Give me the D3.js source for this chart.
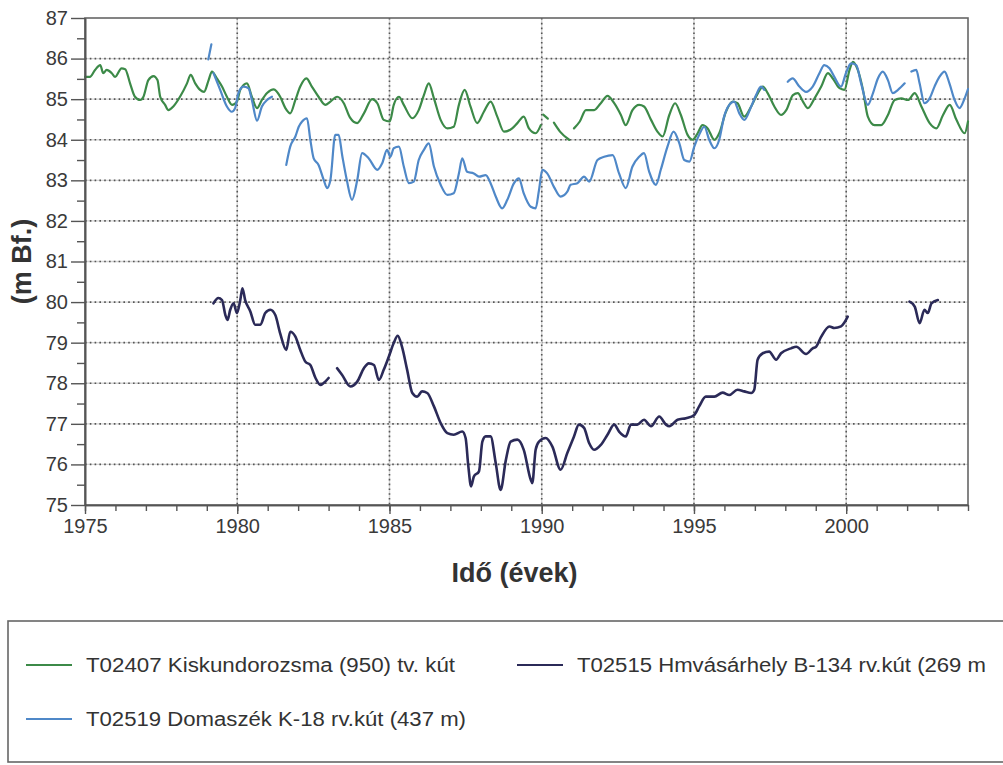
<!DOCTYPE html>
<html>
<head>
<meta charset="utf-8">
<script src="https://cdn.jsdelivr.net/npm/d3@7"></script>
<style>
  body { margin: 0; background: #fff; }
  svg text { font-family: "Liberation Sans", Arial, sans-serif; }
</style>
</head>
<body>
<div id="chart"></div>
<script>
// vízszint (m Bf.) idősorok, null = adathiány
const kiskundorozsma = [
  [1975.0,85.55],[1975.16,85.55],[1975.33,85.72],[1975.5,85.84],[1975.6,85.64],[1975.71,85.72],[1975.88,85.64],[1975.99,85.55],
  [1976.2,85.76],[1976.32,85.74],[1976.48,85.39],[1976.64,85.06],[1976.81,84.98],[1976.92,85.06],[1977.08,85.47],[1977.25,85.57],
  [1977.38,85.47],[1977.47,85.06],[1977.63,84.86],[1977.74,84.73],[1977.9,84.82],[1978.12,85.06],[1978.35,85.39],[1978.47,85.6],
  [1978.62,85.39],[1978.78,85.23],[1978.91,85.18],[1979.06,85.47],[1979.17,85.68],[1979.33,85.51],[1979.5,85.31],[1979.66,85.06],
  [1979.83,84.86],[1979.99,84.94],[1980.1,85.23],[1980.32,85.39],[1980.48,85.06],[1980.65,84.78],[1980.81,84.98],[1980.98,85.15],
  [1981.2,85.24],[1981.41,85.06],[1981.58,84.78],[1981.74,84.65],[1981.91,84.98],[1982.07,85.31],[1982.27,85.51],[1982.45,85.31],
  [1982.67,85.06],[1982.89,84.86],[1983.06,84.94],[1983.28,85.06],[1983.5,84.9],[1983.7,84.55],[1983.94,84.41],[1984.16,84.65],
  [1984.43,85.0],[1984.6,84.9],[1984.81,84.49],[1985.01,84.45],[1985.14,84.86],[1985.31,85.06],[1985.47,84.86],[1985.75,84.53],
  [1985.96,84.73],[1986.13,85.1],[1986.29,85.39],[1986.46,85.02],[1986.68,84.49],[1986.9,84.28],[1987.11,84.32],[1987.28,84.86],
  [1987.47,85.23],[1987.66,84.82],[1987.88,84.41],[1988.1,84.69],[1988.32,84.94],[1988.54,84.57],[1988.76,84.2],[1989.03,84.28],
  [1989.2,84.41],[1989.41,84.57],[1989.58,84.28],[1989.8,84.16],[1989.97,84.36],
  [1990.0,null],
  [1990.05,84.62],[1990.2,84.52],
  [1990.3,null],
  [1990.4,84.42],[1990.6,84.2],[1990.9,84.0],
  [1991.0,null],
  [1991.06,84.28],[1991.25,84.45],[1991.45,84.73],[1991.72,84.73],[1991.94,84.9],[1992.16,85.08],[1992.38,84.9],[1992.6,84.61],
  [1992.76,84.36],[1992.98,84.73],[1993.2,84.86],[1993.36,84.82],[1993.59,84.49],[1993.8,84.2],[1993.97,84.08],[1994.19,84.61],
  [1994.38,84.9],[1994.57,84.61],[1994.79,84.12],[1994.96,84.0],[1995.12,84.16],[1995.28,84.36],[1995.45,84.28],[1995.67,84.0],
  [1995.83,84.16],[1996.05,84.69],[1996.27,84.94],[1996.43,84.9],[1996.65,84.57],[1996.88,84.82],[1997.1,85.15],[1997.26,85.31],
  [1997.42,85.15],[1997.64,84.82],[1997.86,84.61],[1998.03,84.73],[1998.25,85.1],[1998.41,85.15],[1998.58,84.94],[1998.74,84.78],
  [1998.96,85.02],[1999.18,85.31],[1999.4,85.64],[1999.56,85.51],[1999.78,85.27],[1999.94,85.23],[2000.11,85.72],[2000.22,85.92],
  [2000.38,85.72],[2000.55,85.23],[2000.71,84.57],[2000.93,84.36],[2001.15,84.36],[2001.37,84.61],[2001.59,84.98],[2001.81,85.02],
  [2002.03,84.98],[2002.25,85.15],[2002.47,84.82],[2002.74,84.41],[2002.96,84.28],[2003.18,84.61],[2003.4,84.86],[2003.62,84.49],
  [2003.89,84.16],[2004.0,84.45]
];

const domaszek = [
  [1979.05,85.98],[1979.15,86.35],
  [1979.2,null],
  [1979.22,85.64],[1979.44,85.23],[1979.66,84.82],[1979.82,84.69],[1979.93,84.78],[1980.04,85.15],[1980.2,85.31],[1980.37,85.27],
  [1980.48,84.98],[1980.65,84.47],[1980.81,84.82],[1980.98,84.98],[1981.14,85.06],
  [1981.3,null],
  [1981.61,83.38],[1981.74,83.83],[1981.91,84.08],[1982.02,84.32],[1982.13,84.45],[1982.29,84.53],[1982.4,84.0],[1982.51,83.54],
  [1982.67,83.38],[1982.84,83.01],[1982.95,82.81],[1983.06,83.01],[1983.22,84.12],[1983.33,84.12],[1983.45,83.6],[1983.6,83.0],
  [1983.77,82.52],[1983.94,83.0],[1984.1,83.67],[1984.32,83.54],[1984.6,83.26],[1984.76,83.42],[1984.92,83.75],[1985.03,83.58],
  [1985.14,83.79],[1985.31,83.83],[1985.47,83.34],[1985.64,82.93],[1985.8,82.97],[1985.96,83.5],[1986.13,83.75],[1986.29,83.91],
  [1986.46,83.34],[1986.68,82.89],[1986.9,82.64],[1987.11,82.68],[1987.28,83.17],[1987.39,83.54],[1987.55,83.21],[1987.77,83.17],
  [1987.94,83.09],[1988.16,83.13],[1988.32,82.93],[1988.49,82.6],[1988.7,82.31],[1988.87,82.52],[1989.09,82.93],[1989.25,83.05],
  [1989.41,82.68],[1989.64,82.35],[1989.8,82.31],[1989.91,82.76],[1990.02,83.26],[1990.18,83.17],[1990.4,82.84],[1990.62,82.6],
  [1990.84,82.72],[1990.95,82.89],[1991.17,82.93],[1991.39,83.09],[1991.56,82.97],[1991.83,83.5],[1992.05,83.58],[1992.33,83.62],
  [1992.54,83.17],[1992.76,82.81],[1992.98,83.34],[1993.2,83.58],[1993.36,83.67],[1993.53,83.21],[1993.75,82.89],[1993.91,83.26],
  [1994.13,83.83],[1994.33,84.2],[1994.52,83.91],[1994.68,83.5],[1994.85,83.46],[1995.01,83.83],[1995.17,84.12],[1995.34,84.32],
  [1995.5,84.0],[1995.67,83.79],[1995.83,84.0],[1995.99,84.57],[1996.16,84.86],[1996.32,84.94],[1996.49,84.65],[1996.65,84.49],
  [1996.88,84.82],[1997.04,85.1],[1997.2,85.31],[1997.31,85.23],
  [1997.5,null],
  [1998.08,85.43],[1998.24,85.51],[1998.46,85.31],[1998.68,85.18],[1998.9,85.31],[1999.12,85.64],[1999.28,85.84],[1999.45,85.76],
  [1999.61,85.55],[1999.83,85.31],[1999.99,85.64],[2000.16,85.88],[2000.33,85.84],[2000.49,85.39],[2000.71,84.86],[2000.88,85.15],
  [2001.04,85.51],[2001.2,85.68],[2001.37,85.47],[2001.53,85.15],[2001.7,85.23],[2001.92,85.39],
  [2002.0,null],
  [2002.14,85.68],[2002.3,85.72],[2002.41,85.39],[2002.57,84.9],[2002.74,85.02],[2002.9,85.31],[2003.06,85.55],[2003.23,85.68],
  [2003.39,85.39],[2003.56,84.98],[2003.72,84.78],[2003.89,85.02],[2004.0,85.25]
];

const hmvasarhely = [
  [1979.22,79.97],[1979.38,80.1],[1979.5,80.05],[1979.61,79.68],[1979.68,79.56],[1979.77,79.81],[1979.88,79.97],[1979.99,79.73],
  [1980.1,80.05],[1980.17,80.34],[1980.26,80.05],[1980.43,79.77],[1980.59,79.44],[1980.76,79.44],[1980.92,79.73],[1981.09,79.81],
  [1981.25,79.68],[1981.41,79.23],[1981.61,78.82],[1981.74,79.27],[1981.91,79.15],[1982.07,78.82],[1982.24,78.53],[1982.4,78.45],
  [1982.57,78.13],[1982.73,77.96],[1982.89,78.04],[1983.0,78.13],
  [1983.1,null],
  [1983.28,78.37],[1983.44,78.21],[1983.72,77.92],[1983.94,78.04],[1984.16,78.37],[1984.32,78.49],[1984.49,78.45],[1984.65,78.08],
  [1984.81,78.33],[1984.98,78.66],[1985.14,78.99],[1985.27,79.17],[1985.41,78.9],[1985.58,78.33],[1985.75,77.76],[1985.91,77.67],
  [1986.07,77.8],[1986.24,77.76],[1986.46,77.43],[1986.68,77.02],[1986.9,76.77],[1987.11,76.73],[1987.39,76.81],[1987.5,76.65],
  [1987.59,75.95],[1987.68,75.46],[1987.77,75.7],[1987.94,75.83],[1988.05,76.56],[1988.16,76.69],[1988.32,76.69],[1988.49,76.03],
  [1988.65,75.37],[1988.82,76.1],[1988.98,76.56],[1989.2,76.61],[1989.41,76.36],[1989.64,75.62],[1989.69,75.54],[1989.8,76.36],
  [1989.91,76.56],[1990.13,76.65],[1990.35,76.44],[1990.62,75.87],[1990.84,76.28],[1991.06,76.69],[1991.22,76.98],[1991.39,76.9],
  [1991.56,76.52],[1991.72,76.36],[1991.94,76.48],[1992.16,76.73],[1992.38,76.98],[1992.54,76.81],[1992.76,76.69],[1992.93,76.98],
  [1993.14,76.98],[1993.36,77.1],[1993.59,76.94],[1993.86,77.18],[1994.08,76.98],[1994.19,76.94],[1994.46,77.1],[1994.74,77.14],
  [1995.01,77.22],[1995.17,77.43],[1995.39,77.67],[1995.67,77.67],[1995.94,77.77],[1996.16,77.71],[1996.43,77.84],[1996.65,77.8],
  [1996.88,77.76],[1996.98,77.84],[1997.09,78.58],[1997.26,78.74],[1997.47,78.78],[1997.7,78.58],[1997.86,78.74],[1998.19,78.86],
  [1998.36,78.9],[1998.68,78.72],[1998.9,78.86],[1999.01,78.9],[1999.18,79.15],[1999.45,79.4],[1999.61,79.36],[1999.83,79.4],
  [2000.05,79.64],
  [2001.0,null],
  [2002.08,80.01],[2002.25,79.89],[2002.41,79.48],[2002.57,79.81],[2002.68,79.73],[2002.8,79.97],[2003.01,80.05]
];

const seriesNames = [
  "T02407 Kiskundorozsma (950) tv. kút",
  "T02515 Hmvásárhely B-134 rv.kút (269 m",
  "T02519 Domaszék K-18 rv.kút (437 m)"
];
const seriesColors = ["#3c8a48", "#2b2a58", "#4f88c8"];
const yMajorTicks = [75, 76, 77, 78, 79, 80, 81, 82, 83, 84, 85, 86, 87];
const xMajorTicks = [1975, 1980, 1985, 1990, 1995, 2000];

const width = 1003, height = 765;
const plot = { left: 85, right: 968, top: 18, bottom: 505 };

const svg = d3.select("#chart").append("svg")
  .attr("width", width).attr("height", height);

const x = d3.scaleLinear().domain([1975, 2004]).range([plot.left, plot.right]);
const y = d3.scaleLinear().domain([75, 87]).range([plot.bottom, plot.top]);

// rács
const grid = svg.append("g");
yMajorTicks.slice(1, -1).forEach((v) => {
  grid.append("line").attr("x1", plot.left).attr("x2", plot.right)
    .attr("y1", y(v)).attr("y2", y(v)).attr("stroke", "#d4d4d4").attr("stroke-width", 1.4);
  grid.append("line").attr("x1", plot.left).attr("x2", plot.right)
    .attr("y1", y(v)).attr("y2", y(v)).attr("stroke", "#555").attr("stroke-width", 1.6)
    .attr("stroke-dasharray", "1.6 3.2");
});
xMajorTicks.slice(1).forEach((t) => {
  grid.append("line").attr("x1", x(t)).attr("x2", x(t))
    .attr("y1", plot.top).attr("y2", plot.bottom).attr("stroke", "#d4d4d4").attr("stroke-width", 1.4);
  grid.append("line").attr("x1", x(t)).attr("x2", x(t))
    .attr("y1", plot.top).attr("y2", plot.bottom).attr("stroke", "#555").attr("stroke-width", 1.6)
    .attr("stroke-dasharray", "1.6 3.2");
});

// keret
svg.append("rect")
  .attr("x", plot.left).attr("y", plot.top)
  .attr("width", plot.right - plot.left).attr("height", plot.bottom - plot.top)
  .attr("fill", "none").attr("stroke", "#666").attr("stroke-width", 1.6);

// vonalak
const line = d3.line()
  .defined((d) => d[1] !== null)
  .curve(d3.curveMonotoneX)
  .x((d) => x(d[0]))
  .y((d) => y(d[1]));

[[kiskundorozsma, 0], [domaszek, 2], [hmvasarhely, 1]].forEach(([data, i]) => {
  svg.append("path").datum(data)
    .attr("fill", "none")
    .attr("stroke", seriesColors[i])
    .attr("stroke-width", i === 1 ? 2.6 : 2.2)
    .attr("stroke-linejoin", "round")
    .attr("stroke-linecap", "round")
    .attr("d", line);
});

// tengelyek
const axisColor = "#555";
function styleAxis(g) {
  g.select(".domain").attr("stroke", axisColor).attr("stroke-width", 1.6);
  g.selectAll(".tick line").attr("stroke", axisColor).attr("stroke-width", 1.4);
  g.selectAll(".tick text").attr("fill", "#3a3a3a").style("font-size", "20px");
}

svg.append("g").attr("transform", `translate(${plot.left},0)`)
  .call(d3.axisLeft(y).tickValues(d3.range(75.5, 87, 1)).tickSize(8).tickFormat("").tickSizeOuter(0))
  .call(styleAxis);
svg.append("g").attr("transform", `translate(${plot.left},0)`)
  .call(d3.axisLeft(y).tickValues(yMajorTicks).tickSize(14).tickPadding(3).tickFormat(d3.format("d")).tickSizeOuter(0))
  .call(styleAxis);

svg.append("g").attr("transform", `translate(0,${plot.bottom})`)
  .call(d3.axisBottom(x).tickValues(d3.range(1975, 2005)).tickSize(6).tickFormat("").tickSizeOuter(0))
  .call(styleAxis);
svg.append("g").attr("transform", `translate(0,${plot.bottom})`)
  .call(d3.axisBottom(x).tickValues(xMajorTicks).tickSize(9).tickPadding(5).tickFormat(d3.format("d")).tickSizeOuter(0))
  .call(styleAxis);

// tengelyfeliratok
svg.append("text")
  .attr("x", (plot.left + plot.right) / 2 - 12).attr("y", 582)
  .attr("text-anchor", "middle")
  .style("font-size", "27px").style("font-weight", "bold").attr("fill", "#333")
  .text("Idő (évek)");
svg.append("text")
  .attr("transform", `translate(31,${(plot.top + plot.bottom) / 2}) rotate(-90)`)
  .attr("text-anchor", "middle")
  .style("font-size", "27px").style("font-weight", "bold").attr("fill", "#333")
  .text("(m Bf.)");

// jelmagyarázat
const legend = svg.append("g");
legend.append("rect")
  .attr("x", 8).attr("y", 621).attr("width", 1010).attr("height", 141)
  .attr("fill", "#fff").attr("stroke", "#666").attr("stroke-width", 1.6);

const legendItems = [
  { i: 0, lx: 26, ty: 665, tw: 369 },
  { i: 1, lx: 517, ty: 665, tw: 409 },
  { i: 2, lx: 26, ty: 719, tw: 380 }
];
legendItems.forEach((d) => {
  legend.append("line")
    .attr("x1", d.lx).attr("x2", d.lx + 46)
    .attr("y1", d.ty).attr("y2", d.ty)
    .attr("stroke", seriesColors[d.i]).attr("stroke-width", 2);
  legend.append("text")
    .attr("x", d.lx + 60).attr("y", d.ty).attr("dy", "0.35em")
    .attr("textLength", d.tw).attr("lengthAdjust", "spacingAndGlyphs")
    .style("font-size", "20px").attr("fill", "#333")
    .text(seriesNames[d.i]);
});
</script>
</body>
</html>
